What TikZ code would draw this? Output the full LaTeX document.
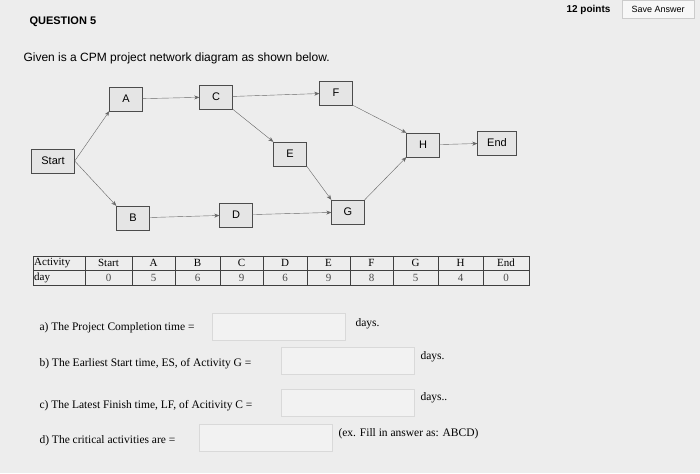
\documentclass[tikz,border=0pt]{standalone}
\usepackage{fontspec}
\setmainfont{Liberation Serif}
\newfontfamily\sans{Liberation Sans}
\usetikzlibrary{arrows.meta}
\begin{document}
\begin{tikzpicture}[x=1pt,y=-1pt,
  box/.style={draw=black!70,fill=white!90!black,minimum width=33pt,minimum height=24pt,inner sep=1pt,font=\sans\fontsize{11}{12}\selectfont},
  arr/.style={draw=black!60,-{Stealth[length=5pt,width=4pt]}},
  inbox/.style={draw=black!15,fill=white!95!black,minimum width=133pt,minimum height=27pt},
  q/.style={anchor=west,font=\fontsize{11.5}{13}\selectfont}]
\fill[white!93!black] (0,0) rectangle (700,473);
\useasboundingbox (0,0) rectangle (700,473);
\node[anchor=west,font=\sans\bfseries\fontsize{11}{12}\selectfont] (qn) at (26,22) {QUESTION 5};
\node[draw=black!20,fill=white!97!black,font=\sans\fontsize{9}{10}\selectfont,minimum width=72pt,minimum height=18pt] (save) at (658,9) {Save Answer};
\node[anchor=east,font=\sans\bfseries\fontsize{10}{12}\selectfont] (pts) at (614,10) {12 points};
\node[anchor=west,font=\sans\fontsize{12}{14}\selectfont] (given) at (20,58) {Given is a CPM project network diagram as shown below.};
\node[box,minimum width=43pt] (S) at (53,161) {Start};
\node[box] (A) at (126,99) {A};
\node[box] (C) at (216,97) {C};
\node[box] (F) at (336,93) {F};
\node[box] (E) at (290,154) {E};
\node[box] (H) at (423,145) {H};
\node[box,minimum width=39pt] (End) at (497,143) {End};
\node[box] (B) at (133,218) {B};
\node[box] (D) at (236,215) {D};
\node[box] (G) at (348,212) {G};
\draw[arr] (S.east) -- (A.south west);
\draw[arr] (S.east) -- (B.north west);
\draw[arr] (A) -- (C);
\draw[arr] (C) -- (F);
\draw[arr] (C.south east) -- (E.north west);
\draw[arr] (B) -- (D);
\draw[arr] (D) -- (G);
\draw[arr] (E.south east) -- (G.north west);
\draw[arr] (F.south east) -- (H.north west);
\draw[arr] (G.north east) -- (H.south west);
\draw[arr] (H) -- (End);
% table
\draw[black!75,line width=0.8pt] (33,256) rectangle (529,285);
\draw[black!75,line width=0.8pt] (33,270) -- (529,270);
\foreach \x in {85,132,175,220,263,307,350,393,438,483}
  \draw[black!75,line width=0.8pt] (\x,256) -- (\x,285);
\foreach \a/\b/\h/\v [count=\i] in {33/85/Activity/day,85/132/Start/0,132/175/A/5,175/220/B/6,220/263/C/9,263/307/D/6,307/350/E/9,350/393/F/8,393/438/G/5,438/483/H/4,483/529/End/0}{
  \ifnum\i=1
    \node[anchor=west,inner sep=1pt,font=\fontsize{11}{12}\selectfont] (th\i) at (\a,263) {\h};
    \node[anchor=west,inner sep=1pt,font=\fontsize{11}{12}\selectfont] (td\i) at (\a,278) {\v};
  \else
    \node[inner sep=1pt,font=\fontsize{11}{12}\selectfont] (th\i) at ({(\a+\b)/2},263) {\h};
    \node[inner sep=1pt,font=\fontsize{11}{12}\selectfont,text=black!70] (td\i) at ({(\a+\b)/2},278) {\v};
  \fi}
% questions
\node[q] (qa) at (36,328) {a) The Project Completion time =};
\node[inbox] (ba) at (279,327) {};
\node[q] (da) at (352,324) {days.};
\node[q] (qb) at (36,364) {b) The Earliest Start time, ES, of Activity G =};
\node[inbox] (bb) at (348,361) {};
\node[q] (db) at (417,357) {days.};
\node[q] (qc) at (36,406) {c) The Latest Finish time, LF, of Acitivity C =};
\node[inbox] (bc) at (348,403) {};
\node[q] (dc) at (417,398) {days..};
\node[q] (qd) at (36,441) {d) The critical activities are =};
\node[inbox] (bd) at (266,438) {};
\node[q] (dd) at (335,434) {(ex. Fill in answer as: ABCD)};
\end{tikzpicture}
\end{document}
